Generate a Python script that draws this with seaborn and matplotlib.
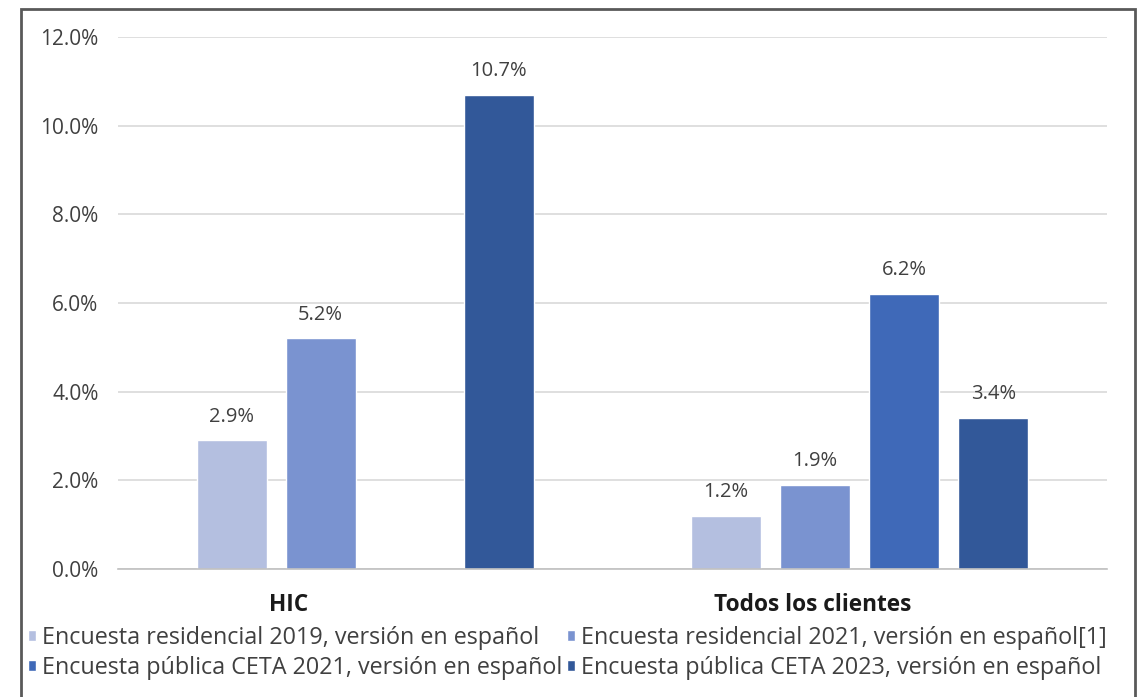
import numpy as np
import pandas as pd
import seaborn as sns
import matplotlib.pyplot as plt
import matplotlib.transforms as mtransforms
from matplotlib.patches import Rectangle
from matplotlib.ticker import FuncFormatter

# Data
categories = ["HIC", "Todos los clientes"]
series = ["Encuesta residencial 2019, versión en español",
          "Encuesta residencial 2021, versión en español[1]",
          "Encuesta pública CETA 2021, versión en español",
          "Encuesta pública CETA 2023, versión en español"]
hic_values = [0.029, 0.052, np.nan, 0.107]
todos_values = [0.012, 0.019, 0.062, 0.034]
colors = ["#b4bfe0", "#7a93d0", "#3f69b8", "#325899"]

rows = []
for cat, vals in zip(categories, [hic_values, todos_values]):
    for s, v in zip(series, vals):
        if not np.isnan(v):
            rows.append({"cat": cat, "serie": s, "valor": v})
df = pd.DataFrame(rows)

sns.set_style("white")
plt.rcParams['font.family'] = ['Open Sans', 'DejaVu Sans']

fig = plt.figure(figsize=(11.4, 6.97), dpi=100)
ax = fig.add_axes([0.1035, 0.1836, 0.8675, 0.7633])

sns.barplot(data=df, x="cat", y="valor", hue="serie", order=categories,
            hue_order=series, palette=colors, width=0.72, gap=0.21,
            saturation=1, ax=ax, legend=True)

for cont in ax.containers:
    ax.bar_label(cont, labels=[f"{b.get_height()*100:.1f}%" for b in cont],
                 padding=10, fontsize=14.5, color="#404040")

ax.set_ylim(0, 0.12)
ax.set_xlim(-0.5, 1.5)
ax.set_yticks(np.arange(0, 0.121, 0.02))
ax.yaxis.set_major_formatter(FuncFormatter(lambda v, p: f"{v*100:.1f}%"))
ax.grid(axis="y", color="#d9d9d9", linewidth=1.2)
ax.set_axisbelow(True)
for side in ["left", "right", "top"]:
    ax.spines[side].set_visible(False)
ax.spines["bottom"].set_color("#c0c0c0")
ax.spines["bottom"].set_linewidth(1.2)
ax.set_xlabel("")
ax.set_ylabel("")
ax.tick_params(axis="y", length=0, pad=14, labelsize=15, labelcolor="#404040")

# category labels sit left of the group centres in the reference
ax.set_xticklabels([])
ax.tick_params(axis="x", length=0)
label_shift = [-55, -34]  # points
base = mtransforms.blended_transform_factory(ax.transData, ax.transAxes)
for i, cat in enumerate(categories):
    tr = base + mtransforms.ScaledTranslation(label_shift[i] / 72, -26 / 72,
                                              fig.dpi_scale_trans)
    ax.text(i, 0, cat, transform=tr, ha="center", va="center",
            fontsize=16.3, fontweight="bold", color="#1a1a1a")

# legend fills row by row in the reference
handles, labels = ax.get_legend_handles_labels()
ax.get_legend().remove()
idx = [0, 2, 1, 3]
fig.legend([handles[i] for i in idx], [labels[i] for i in idx], ncol=2,
           loc="upper left", bbox_to_anchor=(0.0246, 0.1019),
           borderaxespad=0, borderpad=0,
           frameon=False, fontsize=16.8, handlelength=0.35, handleheight=0.35,
           handletextpad=0.25, columnspacing=0.2, labelspacing=0.24,
           labelcolor="#404040")

fig.patches.append(Rectangle((21/1140, -0.01), (1135-21)/1140, 1.01 - 9/697,
                             transform=fig.transFigure, fill=False,
                             edgecolor="#595959", linewidth=2))

fig.savefig("out.png", dpi=100)
